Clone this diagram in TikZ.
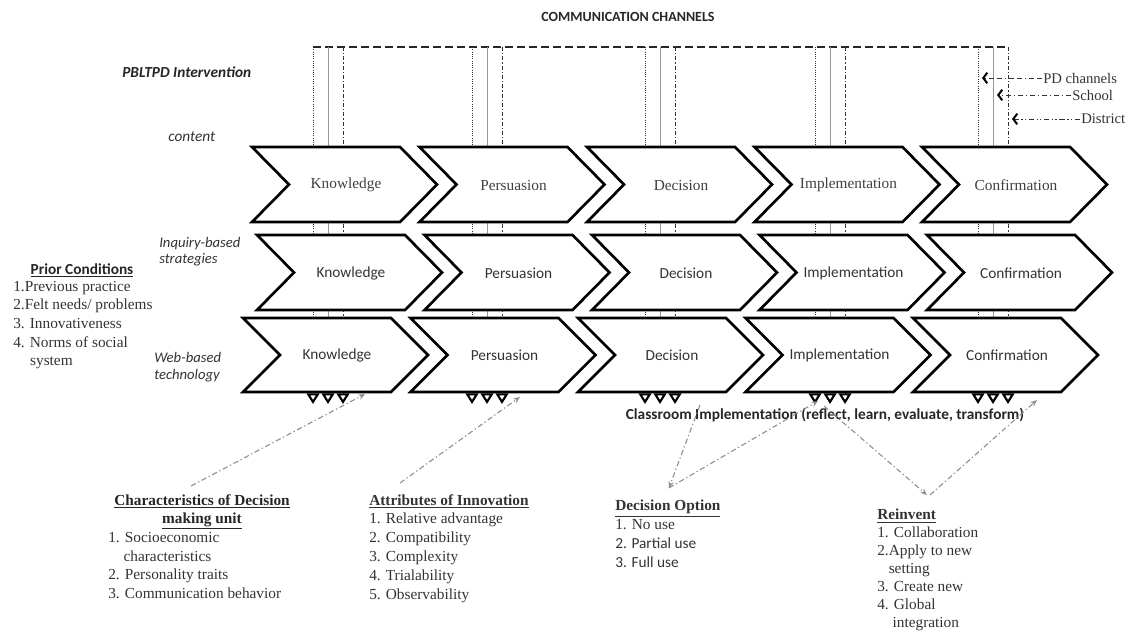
\documentclass[tikz,border=0pt]{standalone}
\usepackage{fontspec}
\setmainfont{Liberation Serif}
\newfontfamily\carl{Carlito}
\usepackage{tikz}
\usetikzlibrary{arrows.meta, calc}

\begin{document}
\begin{tikzpicture}[x=0.75pt,y=0.75pt,yscale=-1,xscale=1,
  chev/.style={draw=black, line width=2pt, fill=white, line join=miter},
  lblrm/.style={inner sep=0.75pt, text=black!75, font=\fontsize{11.5}{14}\selectfont},
  lblsf/.style={inner sep=0.75pt, text=black!80, font=\carl\fontsize{11.5}{14}\selectfont},
  chA/.style={black!80, line width=0.7pt, densely dotted},
  chB/.style={black!40, line width=0.6pt},
  chC/.style={black!80, line width=0.7pt, dash pattern=on 3pt off 1.5pt on 1pt off 1.5pt},
  chtop/.style={black!85, line width=0.9pt, dash pattern=on 6pt off 3pt},
  foot/.style={-{Triangle[open,length=8pt,width=9.5pt,line width=1.6pt,color=black]}},
  link/.style={black!45, line width=0.8pt, dash pattern=on 4pt off 2pt on 1pt off 2pt, -{Stealth[length=5pt,width=4pt]}},
  legline/.style={black!80, line width=0.7pt, -{Straight Barb[length=3pt,width=8pt,line width=1.5pt,color=black]}}
]
\useasboundingbox (0,0) rectangle (1130,632);

%Straight Lines: communication channels
\draw[chtop] (313,47) -- (1008,47);
\foreach \gx in {313,472,645,815,978} {
  \draw[chA,foot] (\gx,47) -- (\gx,404);
  \draw[chB,foot] (\gx+15,47) -- (\gx+15,404);
  \draw[chC,foot] (\gx+30,47) -- (\gx+30,404);
}

%Shape: Chevrons row 1 (content)
\foreach \lx/\nm/\lbl in {252/k1/Knowledge, 419.5/p1/Persuasion, 587/d1/Decision, 754.5/i1/Implementation, 922/c1/Confirmation} {
  \draw[chev] (\lx,147) -- ++(148,0) -- ++(37,37.5) -- ++(-37,37.5) -- ++(-148,0) -- ++(37,-37.5) -- cycle;
  \draw (\lx+94,185) node (\nm) [lblrm] {\lbl};
}
%Shape: Chevrons row 2 (inquiry-based strategies)
\foreach \lx/\nm/\lbl in {257/k2/Knowledge, 424.5/p2/Persuasion, 592/d2/Decision, 759.5/i2/Implementation, 927/c2/Confirmation} {
  \draw[chev] (\lx,235) -- ++(148,0) -- ++(37,37.5) -- ++(-37,37.5) -- ++(-148,0) -- ++(37,-37.5) -- cycle;
  \draw (\lx+94,273) node (\nm) [lblsf] {\lbl};
}
%Shape: Chevrons row 3 (web-based technology)
\foreach \lx/\nm/\lbl in {243/k3/Knowledge, 410.5/p3/Persuasion, 578/d3/Decision, 745.5/i3/Implementation, 913/c3/Confirmation} {
  \draw[chev] (\lx,318) -- ++(148,0) -- ++(37,37) -- ++(-37,37) -- ++(-148,0) -- ++(37,-37) -- cycle;
  \draw (\lx+94,355) node (\nm) [lblsf] {\lbl};
}

% Text Node
\draw (628,17) node (title) [inner sep=0.75pt, text=black!85, font=\carl\bfseries\fontsize{10.5}{12}\selectfont] {COMMUNICATION CHANNELS};
% Text Node
\draw (121,72) node (pbltpd) [anchor=west, inner sep=0.75pt, text=black!85, font=\carl\bfseries\itshape\fontsize{11.5}{14}\selectfont] {PBLTPD Intervention};
% Text Node
\draw (167,137) node (contlab) [anchor=west, inner sep=0.75pt, text=black!80, font=\carl\itshape\fontsize{11.5}{14}\selectfont] {content};
% Text Node
\draw (158,236) node (inqlab) [anchor=north west, inner sep=0.75pt, align=left, text=black!80, font=\carl\itshape\fontsize{11}{12}\selectfont] {Inquiry-based\\strategies};
% Text Node
\draw (153,351) node (weblab) [anchor=north west, inner sep=0.75pt, align=left, text=black!80, font=\carl\itshape\fontsize{11}{12.75}\selectfont] {Web-based\\technology};

% Text Node
\draw (82,270) node (priorhd) [inner sep=0.75pt, text=black!85, font=\carl\bfseries\fontsize{11.5}{14}\selectfont] {\underline{Prior Conditions}};
% Text Node
\draw (12,280) node (priorls) [anchor=north west, inner sep=0.75pt, align=left, text=black!80, font=\fontsize{11.5}{13.9}\selectfont] {1.Previous practice\\2.Felt needs/ problems\\3. Innovativeness\\4. Norms of social\\\hspace*{1.1em}system};

% Text Node
\draw (825,415) node (classimp) [inner sep=0.75pt, text=black!85, font=\carl\bfseries\fontsize{11.5}{14}\selectfont] {Classroom Implementation (reflect, learn, evaluate, transform)};

% Text Node
\draw (202,493) node (charhd) [anchor=north, inner sep=0.75pt, align=center, text=black!85, font=\bfseries\fontsize{11.5}{13.5}\selectfont] {\underline{Characteristics of Decision}\\\underline{making unit}};
% Text Node
\draw (107,531) node (charls) [anchor=north west, inner sep=0.75pt, align=left, text=black!80, font=\fontsize{11.5}{14}\selectfont] {1. Socioeconomic\\\hspace*{1em}characteristics\\2. Personality traits\\3. Communication behavior};
% Text Node
\draw (368,493) node (attrls) [anchor=north west, inner sep=0.75pt, align=left, text=black!80, font=\fontsize{11.5}{14.1}\selectfont] {\textbf{\underline{Attributes of Innovation}}\\1. Relative advantage\\2. Compatibility\\3. Complexity\\4. Trialability\\5. Observability};
% Text Node
\draw (614,499) node (decopt) [anchor=north west, inner sep=0.75pt, align=left, text=black!80, font=\fontsize{11.5}{14.25}\selectfont] {\textbf{\underline{Decision Option}}\\1. No use\\{\carl 2. Partial use}\\{\carl 3. Full use}};
% Text Node
\draw (876,508) node (reinls) [anchor=north west, inner sep=0.75pt, align=left, text=black!80, font=\fontsize{11.5}{13.5}\selectfont] {\textbf{\underline{Reinvent}}\\1. Collaboration\\2.Apply to new\\\hspace*{0.75em}setting\\3. Create new\\4. Global\\\hspace*{1em}integration};

% Text Node: legend
\draw (1042,78) node (pdlab) [anchor=west, inner sep=0.75pt, text=black!80, font=\fontsize{11}{13}\selectfont] {PD channels};
\draw (1071,95) node (schlab) [anchor=west, inner sep=0.75pt, text=black!80, font=\fontsize{11}{13}\selectfont] {School};
\draw (1080,119) node (dislab) [anchor=west, inner sep=0.75pt, text=black!80, font=\fontsize{11}{13}\selectfont] {District};
\coordinate (pdtip) at (982,78);
\coordinate (schtip) at (997,95);
\coordinate (distip) at (1012,119);
\draw[legline, dash pattern=on 4pt off 2pt on 4pt off 2pt on 1pt off 2pt] (pdlab.west) -- (pdtip);
\draw[legline, dash pattern=on 4pt off 2pt on 1pt off 2pt] (schlab.west) -- (schtip);
\draw[legline, dash pattern=on 4pt off 2pt on 1pt off 1.5pt on 1pt off 2pt] (dislab.west) -- (distip);

%Straight Lines: gray connectors
\coordinate (kfoot) at (365,394);
\coordinate (pfoot) at (520,397);
\coordinate (dfoot) at (700,405);
\coordinate (ifoot) at (818,401);
\coordinate (ifootb) at (824,406);
\coordinate (cfoot) at (1037,400);
\draw[link] ($(charhd.north)+(-11,-7)$) -- (kfoot);
\draw[link] ($(attrls.north west)+(32,-10)$) -- (pfoot);
\draw[link] (dfoot) -- ($(decopt.north)+(1,-11)$);
\draw[link] ($(decopt.north)+(1,-11)$) -- (ifoot);
\draw[link] (ifootb) -- ($(reinls.north west)+(51,-13)$);
\draw[link] ($(reinls.north west)+(54,-13)$) -- (cfoot);

\end{tikzpicture}
\end{document}
